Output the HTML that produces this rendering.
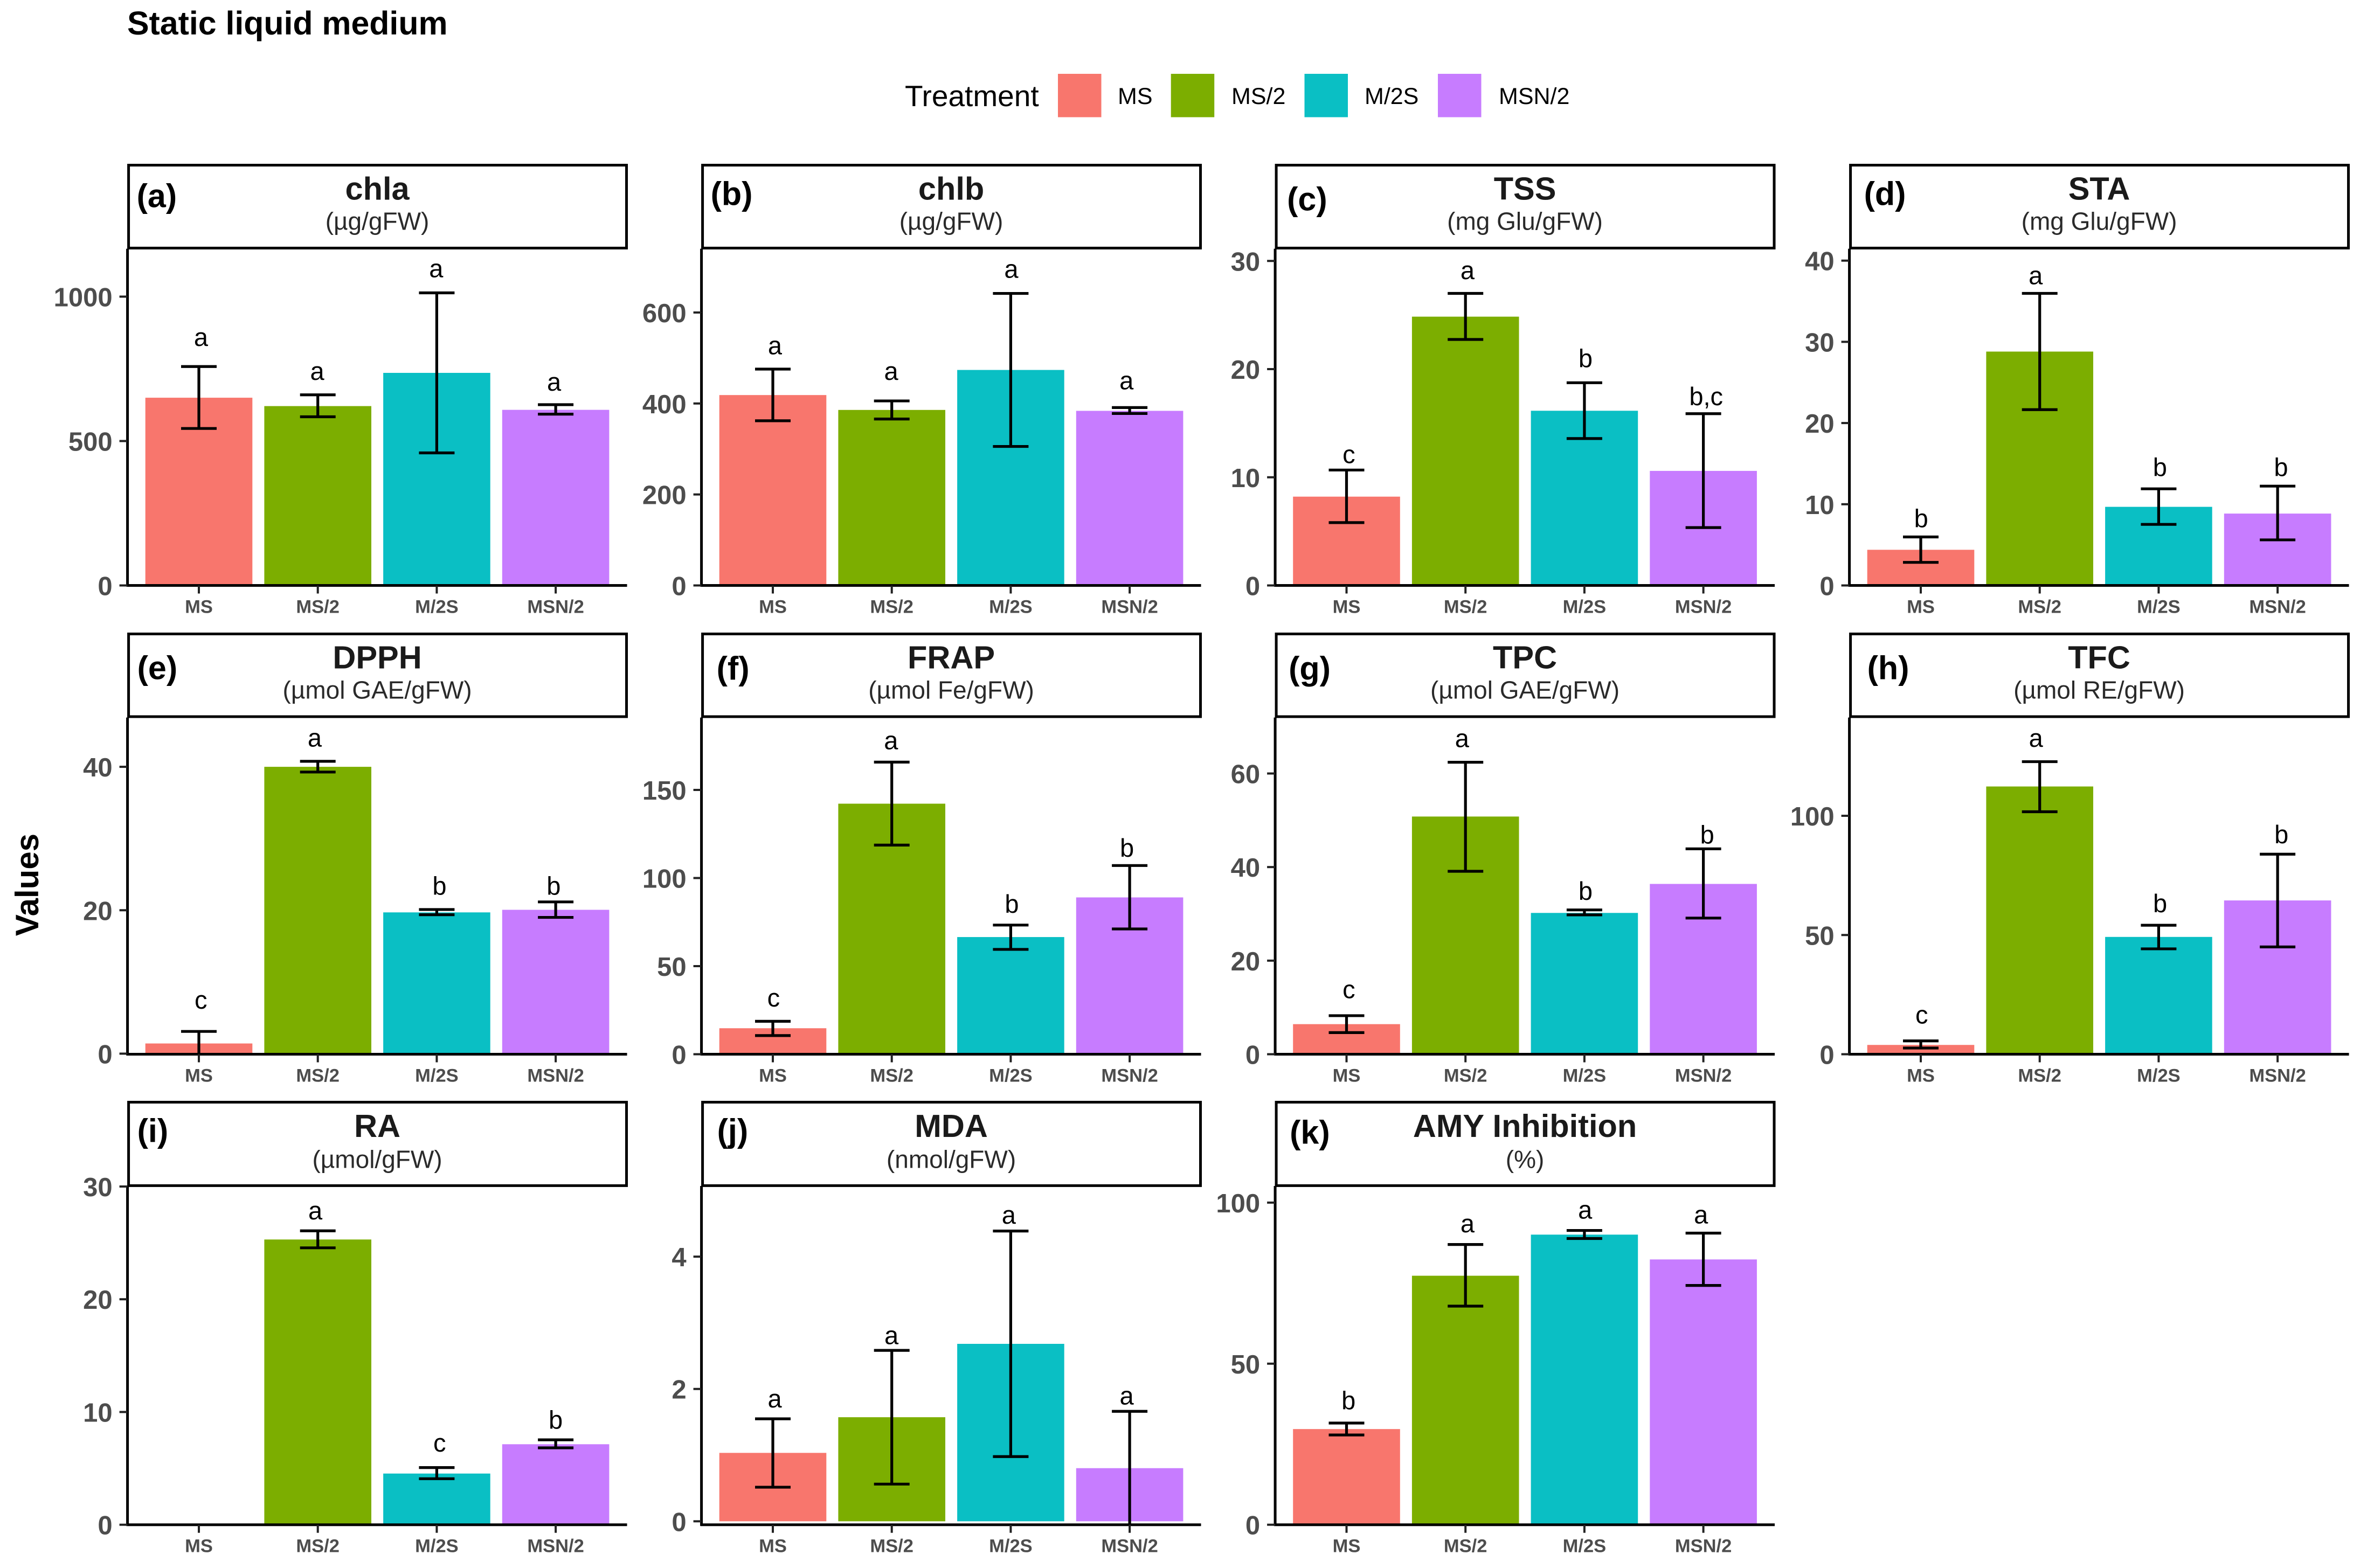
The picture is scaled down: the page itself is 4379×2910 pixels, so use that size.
<!DOCTYPE html>
<html lang="en">
<head>
<meta charset="utf-8">
<title>Static liquid medium</title>
<style>
html,body{margin:0;padding:0;background:#fff;}
svg{display:block;}
text{font-family:"Liberation Sans",sans-serif;}
</style>
</head>
<body>
<svg id="figure" xmlns="http://www.w3.org/2000/svg" width="4379" height="2910" viewBox="0 0 4379 2910">
  <rect x="0" y="0" width="4379" height="2910" fill="#ffffff"/>
  <text x="236" y="64" font-size="60.8" font-weight="700" fill="#000">Static liquid medium</text>
  <text transform="translate(71,1642) rotate(-90)" text-anchor="middle" font-size="60" font-weight="700" fill="#000">Values</text>
  <g>
    <text x="1679" y="197" font-size="55" fill="#000">Treatment</text>
    <rect x="1963" y="137" width="80.5" height="80.5" fill="#F8766D"/>
    <text x="2074" y="193" font-size="43" fill="#000">MS</text>
    <rect x="2172.7" y="137" width="80.5" height="80.5" fill="#7CAE00"/>
    <text x="2285" y="193" font-size="43" fill="#000">MS/2</text>
    <rect x="2420.5" y="137" width="80.5" height="80.5" fill="#0ABFC4"/>
    <text x="2532" y="193" font-size="43" fill="#000">M/2S</text>
    <rect x="2668" y="137" width="80.5" height="80.5" fill="#C77CFF"/>
    <text x="2781" y="193" font-size="43" fill="#000">MSN/2</text>
  </g>
</svg>
<script>
// ---- chart data ----
const categories = ["MS", "MS/2", "M/2S", "MSN/2"];
const panelTags = ["(a)", "(b)", "(c)", "(d)", "(e)", "(f)", "(g)", "(h)", "(i)", "(j)", "(k)"];
const panelNames = ["chla", "chlb", "TSS", "STA", "DPPH", "FRAP", "TPC", "TFC", "RA", "MDA", "AMY Inhibition"];
const panelUnits = ["(µg/gFW)", "(µg/gFW)", "(mg Glu/gFW)", "(mg Glu/gFW)", "(µmol GAE/gFW)", "(µmol Fe/gFW)", "(µmol GAE/gFW)", "(µmol RE/gFW)", "(µmol/gFW)", "(nmol/gFW)", "(%)"];

const yDomains = [[0, 1164], [0, 739], [0, 31.08], [0, 41.4], [-0.08, 46.8], [0, 190.8], [0, 71.85], [0, 141], [0, 30], [-0.052, 5.06], [0, 105]];
const yTicks = [
  [0, 500, 1000],
  [0, 200, 400, 600],
  [0, 10, 20, 30],
  [0, 10, 20, 30, 40],
  [0, 20, 40],
  [0, 50, 100, 150],
  [0, 20, 40, 60],
  [0, 50, 100],
  [0, 10, 20, 30],
  [0, 2, 4],
  [0, 50, 100]
];

const means = [
  [650, 621, 736, 608],
  [418.5, 385.8, 473.7, 383.8],
  [8.21, 24.85, 16.15, 10.59],
  [4.39, 28.8, 9.68, 8.85],
  [1.42, 40, 19.7, 20.06],
  [14.75, 142.2, 66.5, 89],
  [6.43, 50.8, 30.2, 36.4],
  [3.9, 112.3, 49.2, 64.5],
  [0, 25.3, 4.54, 7.14],
  [1.034, 1.573, 2.682, 0.803],
  [29.7, 77.3, 90.06, 82.36]
];
const errorUpper = [
  [758, 660, 1013, 626],
  [475.6, 405.6, 641.9, 391],
  [10.67, 27, 18.74, 15.88],
  [5.97, 35.97, 11.9, 12.23],
  [3.1, 40.77, 20.1, 21.16],
  [18.7, 165.8, 73.3, 107.1],
  [8.24, 62.4, 30.84, 43.9],
  [5.6, 122.7, 54.1, 83.9],
  [null, 26.07, 5.07, 7.53],
  [1.549, 2.583, 4.387, 1.662],
  [31.57, 87, 91.36, 90.53]
];
const errorLower = [
  [543.5, 584, 459, 593],
  [362, 365.9, 305.5, 378],
  [5.81, 22.74, 13.58, 5.35],
  [2.84, 21.65, 7.52, 5.61],
  [-0.5, 39.27, 19.37, 19],
  [10.6, 118.7, 59.5, 71.1],
  [4.62, 39.1, 29.78, 29.1],
  [2.6, 101.7, 44.2, 45],
  [null, 24.56, 4.08, 6.82],
  [0.515, 0.562, 0.978, -0.09],
  [27.86, 67.87, 88.86, 74.28]
];
const letters = [
  ["a", "a", "a", "a"],
  ["a", "a", "a", "a"],
  ["c", "a", "b", "b,c"],
  ["b", "a", "b", "b"],
  ["c", "a", "b", "b"],
  ["c", "a", "b", "b"],
  ["c", "a", "b", "b"],
  ["c", "a", "b", "b"],
  [null, "a", "c", "b"],
  ["a", "a", "a", "a"],
  ["b", "a", "a", "a"]
];
const letterValues = [
  [852, 734.5, 1090, 697],
  [522.5, 466, 690.6, 445.4],
  [11.91, 28.92, 20.96, 17.45],
  [8.24, 37.88, 14.53, 14.53],
  [7.16, 43.74, 23.36, 23.36],
  [30.8, 176.7, 85.2, 117],
  [13.36, 67.04, 34.83, 46.88],
  [15.6, 131.6, 63.2, 92.1],
  [null, 27.67, 7.06, 9.28],
  [1.818, 2.777, 4.595, 1.865],
  [38.53, 92.76, 97.03, 95.54]
];
// horizontal jitter of the significance letters, in category units
const letterJitter = [
  [0.018, -0.005, -0.005, -0.014],
  [0.018, -0.005, 0.005, -0.027],
  [0.02, 0.017, 0.009, 0.023],
  [0.003, -0.034, 0.011, 0.029],
  [0.017, -0.026, 0.023, -0.017],
  [0.006, -0.006, 0.009, -0.023],
  [0.02, -0.029, 0.009, 0.032],
  [0.008, -0.032, 0.012, 0.032],
  [0, -0.021, 0.024, 0],
  [0.016, -0.003, -0.016, -0.025],
  [0.017, 0.017, 0.006, -0.02]
];

// ---- layout ----
const SVGNS = "http://www.w3.org/2000/svg";
const fills = ["#F8766D", "#7CAE00", "#0ABFC4", "#C77CFF"];
const colCenters = [369, 1434, 2498.5, 3564];
const rowTops = [462.6, 1332.6, 2202];
const rowBottoms = [1086.5, 1956.5, 2829.7];
const stripTops = [306.5, 1176.5, 2045.5];
const stripBottoms = [460.4, 1330, 2200.4];
const tagDx = [15, 15, 20, 25, 16, 26, 23, 31, 16, 27, 25];
const tagDy = [78, 74, 84, 74, 84, 85, 85, 84, 74, 74, 77];
const STEP = 220.7;
const BAR_W = 198.6;
const CAP_W = 66;

const root = document.getElementById("figure");

function mk(tag, attrs, parent, txt) {
  const el = document.createElementNS(SVGNS, tag);
  for (const k in attrs) el.setAttribute(k, attrs[k]);
  if (txt !== undefined) el.textContent = txt;
  parent.appendChild(el);
  return el;
}
function xScale(col, i) {
  return colCenters[col] + i * STEP;
}
function yScale(p, row, v) {
  const d = yDomains[p];
  return rowBottoms[row] - (v - d[0]) / (d[1] - d[0]) * (rowBottoms[row] - rowTops[row]);
}

panelNames.forEach(function (name, p) {
  const row = Math.floor(p / 4);
  const col = p % 4;
  const axisX = colCenters[col] - 0.6 * STEP;
  const rightX = xScale(col, 3) + 0.6 * STEP;
  const top = rowTops[row];
  const bottom = rowBottoms[row];

  const g = mk("g", {}, root);
  
  

  // strip
  const strip = mk("rect", {
    x: axisX + 2, y: stripTops[row],
    width: rightX - axisX - 3, height: stripBottoms[row] - stripTops[row],
    fill: "#fff", stroke: "#000", "stroke-width": 5
  }, g);
  
  

  const cx = (axisX + rightX) / 2;
  const title = mk("text", {
    x: cx, y: stripTops[row] + (row === 2 ? 64.5 : 64), "text-anchor": "middle",
    "font-size": 59.5, "font-weight": 700, fill: "#1a1a1a"
  }, g, name);
  
  

  const unit = mk("text", {
    x: cx, y: stripTops[row] + (row === 2 ? 122 : 120), "text-anchor": "middle",
    "font-size": 46, fill: "#2a2a2a"
  }, g, panelUnits[p]);
  
  

  const tag = mk("text", {
    x: axisX + 2 + tagDx[p], y: stripTops[row] + tagDy[p],
    "font-size": 61, "font-weight": 700, fill: "#000"
  }, g, panelTags[p]);
  
  

  // clip so that whiskers below the axis are hidden
  const clipId = "clip" + p;
  const cp = mk("clipPath", { id: clipId }, g);
  mk("rect", { x: axisX, y: top - 20, width: rightX - axisX, height: bottom - top + 20 }, cp);

  const marks = mk("g", { "clip-path": "url(#" + clipId + ")" }, g);

  // bars
  means[p].forEach(function (v, i) {
    if (v === null || v === 0) return;
    const y0 = yScale(p, row, 0);
    const y1 = yScale(p, row, v);
    const bar = mk("rect", {
      x: xScale(col, i) - BAR_W / 2, y: Math.min(y0, y1),
      width: BAR_W, height: Math.abs(y0 - y1), fill: fills[i]
    }, marks);
    
    
  });

  // error bars
  means[p].forEach(function (v, i) {
    const hi = errorUpper[p][i];
    const lo = errorLower[p][i];
    if (hi === null || lo === null) return;
    const x = xScale(col, i);
    const yh = yScale(p, row, hi);
    const yl = yScale(p, row, lo);
    const d = "M" + (x - CAP_W / 2) + " " + yh + "H" + (x + CAP_W / 2) +
      "M" + (x - CAP_W / 2) + " " + yl + "H" + (x + CAP_W / 2) +
      "M" + x + " " + yh + "V" + yl;
    const eb = mk("path", { d: d, fill: "none", stroke: "#000", "stroke-width": 5.2 }, marks);
    
    
  });

  // significance letters
  letters[p].forEach(function (s, i) {
    if (s === null) return;
    const lift = s.charAt(0) === "b" ? 16 : 12;
    const t = mk("text", {
      x: xScale(col, i + letterJitter[p][i]),
      y: yScale(p, row, letterValues[p][i]) + lift,
      "text-anchor": "middle", "font-size": 47, fill: "#000"
    }, g, s);
    
    
  });

  // axes
  const yAxis = mk("line", { x1: axisX, x2: axisX, y1: top - 1, y2: bottom + 2, stroke: "#000", "stroke-width": 5 }, g);
  
  

  const xAxis = mk("line", { x1: axisX - 2, x2: rightX, y1: bottom, y2: bottom, stroke: "#000", "stroke-width": 5 }, g);
  
  

  yTicks[p].forEach(function (v) {
    const y = yScale(p, row, v);
    const tk = mk("line", { x1: axisX - 15, x2: axisX, y1: y, y2: y, stroke: "#222", "stroke-width": 4 }, g);
    
    
    const lb = mk("text", {
      x: axisX - 28, y: y + 18, "text-anchor": "end",
      "font-size": 49, "font-weight": 700, fill: "#4D4D4D"
    }, g, String(v));
    
    
  });

  categories.forEach(function (c, i) {
    const x = xScale(col, i);
    const tk = mk("line", { x1: x, x2: x, y1: bottom, y2: bottom + 15, stroke: "#222", "stroke-width": 4 }, g);
    
    
    const lb = mk("text", {
      x: x, y: bottom + 51, "text-anchor": "middle",
      "font-size": 34.5, "font-weight": 700, fill: "#4D4D4D"
    }, g, c);
    
    
  });
});
</script>
</body>
</html>
